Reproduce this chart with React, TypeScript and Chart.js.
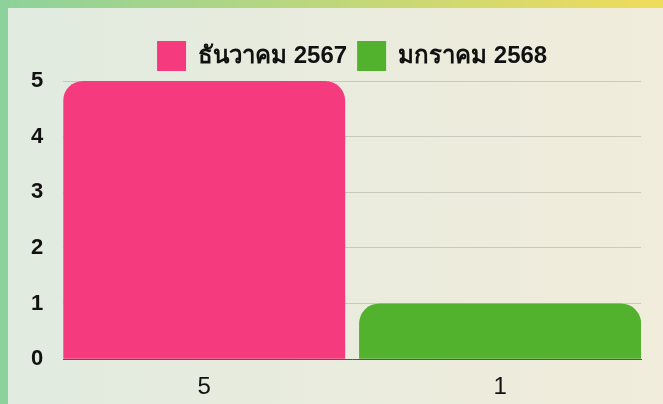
import React, { useEffect, useRef } from "react";
import { Chart, registerables } from "chart.js";

Chart.register(...registerables);

const categories = ["5", "1"];
const seriesNames = ["ธันวาคม 2567", "มกราคม 2568"];
const decemberValues: (number | null)[] = [5, null];
const januaryValues: (number | null)[] = [null, 1];
const yTickValues = [0, 1, 2, 3, 4, 5];

const FONT = "'Helvetica Neue', 'Helvetica', 'Arial', sans-serif";

export default function App() {
  const ref = useRef<HTMLCanvasElement | null>(null);

  useEffect(() => {
    if (!ref.current) return;
    const toPoints = (vals: (number | null)[]) =>
      vals
        .map((v, i) => ({ x: i, y: v }))
        .filter((p) => p.y !== null) as { x: number; y: number }[];

    const barStyle = {
      borderRadius: { topLeft: 20, topRight: 20, bottomLeft: 0, bottomRight: 0 },
      borderSkipped: "start",
      grouped: false,
      barPercentage: 1,
      categoryPercentage: 0.953,
    };

    const chart = new Chart(ref.current, {
      type: "bar",
      data: {
        datasets: [
          {
            label: seriesNames[0],
            data: toPoints(decemberValues),
            backgroundColor: "#f63a7e",
            ...barStyle,
          } as any,
          {
            label: seriesNames[1],
            data: toPoints(januaryValues),
            backgroundColor: "#52b22d",
            ...barStyle,
          } as any,
        ],
      },
      options: {
        animation: false,
        responsive: false,
        maintainAspectRatio: false,
        layout: { padding: { top: 23, left: 3, right: 22, bottom: -12 } },
        plugins: {
          legend: {
            display: true,
            position: "top",
            fullSize: false,
            labels: {
              boxWidth: 29,
              boxHeight: 30,
              color: "#111",
              font: { family: FONT, size: 24, weight: "bold" },
              padding: 10,
            },
          },
          tooltip: { enabled: false },
        },
        scales: {
          x: {
            type: "linear",
            offset: false,
            min: -0.476,
            max: categories.length - 1 + 0.476,
            afterBuildTicks: (scale: any) => {
              scale.ticks = categories.map((_, i) => ({ value: i }));
            },
            ticks: {
              color: "#111",
              font: { family: FONT, size: 24 },
              padding: 14,
              callback: (v: any) => categories[Number(v)] ?? "",
            },
            grid: { display: false, drawTicks: false, offset: false },
            border: { display: true, color: "#555", width: 1 },
          },
          y: {
            min: 0,
            max: 5,
            afterBuildTicks: (scale: any) => {
              scale.ticks = yTickValues.map((v) => ({ value: v }));
            },
            ticks: {
              color: "#111",
              font: { family: FONT, size: 22, weight: "bold" },
              padding: 20,
            },
            grid: { color: "rgba(0,0,0,0.14)", drawTicks: false },
            border: { display: false },
          },
        },
      },
    });
    return () => chart.destroy();
  }, []);

  return (
    <div
      style={{
        position: "fixed",
        left: 0,
        top: 0,
        width: 663,
        height: 404,
        background: "linear-gradient(90deg, #e1ebe0 0%, #f1ecdb 100%)",
        overflow: "hidden",
      }}
    >
      <div
        style={{
          position: "absolute",
          left: 0,
          top: 0,
          width: 8,
          height: 404,
          background: "#8dd29b",
        }}
      />
      <div
        style={{
          position: "absolute",
          left: 0,
          top: 0,
          width: 663,
          height: 8,
          background: "linear-gradient(90deg, #8dd29b 0%, #f0dc5b 100%)",
        }}
      />
      <canvas
        ref={ref}
        width={655}
        height={396}
        style={{ position: "absolute", left: 8, top: 8, width: 655, height: 396 }}
      />
    </div>
  );
}
